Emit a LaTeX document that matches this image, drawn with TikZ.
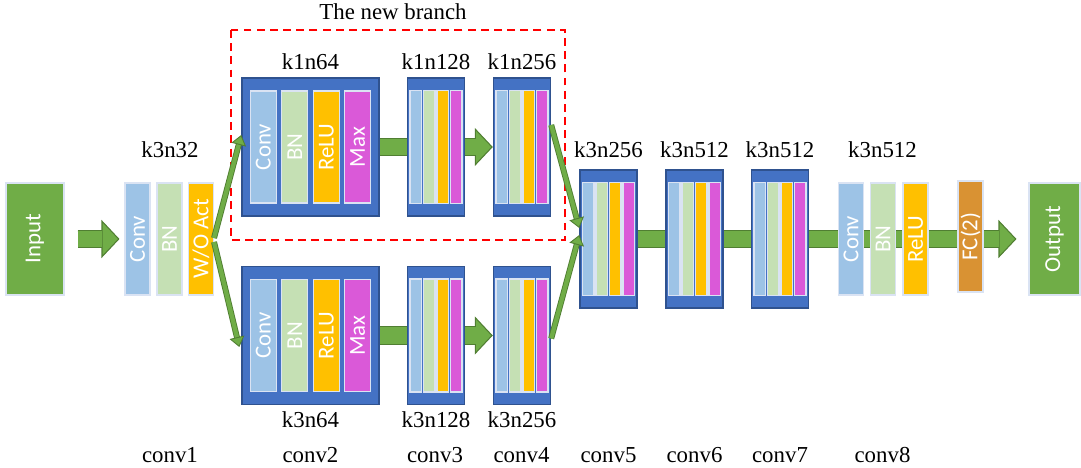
\documentclass[tikz,border=0pt]{standalone}
\usepackage{fontspec}
\usepackage{graphicx}
\setmainfont{Liberation Serif}
\newfontfamily\barfont{Carlito}
\usetikzlibrary{arrows.meta}
\pgfdeclarelayer{bg}
\pgfsetlayers{bg,main}
\definecolor{agreen}{HTML}{70AD47}
\definecolor{adark}{HTML}{507E32}
\definecolor{blockblue}{HTML}{4472C4}
\definecolor{blockline}{HTML}{2F528F}
\definecolor{convc}{HTML}{9DC3E6}
\definecolor{bnc}{HTML}{C5E0B4}
\definecolor{reluc}{HTML}{FFC000}
\definecolor{maxc}{HTML}{DA59D8}
\definecolor{fcc}{HTML}{D99233}
\definecolor{barline}{HTML}{DAE3F3}
\newcommand{\up}[1]{\rotatebox{90}{#1}}
\tikzset{
    lab/.style={font=\fontsize{13}{15}\selectfont, inner sep=0},
    bar/.style={draw=barline, line width=0.6pt, minimum width=0.50cm,
        minimum height=2.24cm, inner sep=0, text=white,
        font=\barfont\fontsize{13}{15}\selectfont},
    widebar/.style={bar, minimum width=0.52cm},
    thinbar/.style={bar, minimum width=0.23cm, minimum height=2.26cm},
    block/.style={fill=blockblue, draw=blockline, line width=0.8pt,
        minimum height=2.76cm, inner sep=0},
    io/.style={bar, fill=agreen, minimum width=1.16cm},
    band/.style={draw=agreen, line width=9.6pt},
    bandedge/.style={draw=adark, line width=10.6pt},
    thinedge/.style={draw=adark, line width=3.4pt, shorten >=0.19cm},
    thinarrow/.style={draw=agreen, line width=2.4pt,
        -{Triangle[length=0.2cm, width=0.3cm, fill=agreen, color=adark, line width=0.5pt]}},
    branchbox/.style={draw=red, line width=1.4pt, dash pattern=on 4.5pt off 3pt}
}
% small conv block: name, x, y
\newcommand{\convblock}[3]{%
  \node (#1) [block, minimum width=1.14cm] at (#2,#3) {};
  \foreach \dx/\col [count=\i] in {-0.405/convc, -0.135/bnc, 0.135/reluc, 0.405/maxc}
    \node (#1-\i) [thinbar, fill=\col] at ({#2+\dx},#3) {};
}
% wide conv block: name, x, y
\newcommand{\bigblock}[3]{%
  \node (#1) [block, minimum width=2.74cm] at (#2,#3) {};
  \foreach \dx/\col/\txt [count=\i] in {-0.945/convc/Conv, -0.315/bnc/BN, 0.315/reluc/ReLU, 0.945/maxc/Max}
    \node (#1-\i) [widebar, fill=\col] at ({#2+\dx},#3) {\up{\txt}};
}
% band with head: from, to, start gap, end gap
\newcommand{\headband}[4]{%
  \draw[bandedge, shorten <=#3, shorten >=#4+0.35cm] (#1) -- (#2);
  \draw[draw=agreen, line width=9.6pt, shorten <=#3, shorten >=#4,
    -{Triangle[length=0.36cm, width=0.76cm, fill=agreen, color=adark, line width=0.6pt]}] (#1) -- (#2);
  \draw[band, shorten <=#3, shorten >=#4+0.34cm] (#1) -- (#2);
}

\begin{document}
\begin{tikzpicture}
  \useasboundingbox (0,0) rectangle (21.62,-9.36);

  \node (in1) [io] at (0.70,-4.78) {\up{Input}};
  \node (c1conv) [bar, fill=convc] at (2.75,-4.78) {\up{Conv}};
  \node (c1bn) [bar, fill=bnc] at (3.39,-4.78) {\up{BN}};
  \node (c1act) [bar, fill=reluc] at (4.02,-4.78) {\up{W/O Act}};

  \bigblock{c2t}{6.21}{-2.94}
  \bigblock{c2b}{6.21}{-6.71}
  \convblock{c3t}{8.72}{-2.94}
  \convblock{c3b}{8.72}{-6.71}
  \convblock{c4t}{10.44}{-2.94}
  \convblock{c4b}{10.44}{-6.71}
  \convblock{c5}{12.17}{-4.78}
  \convblock{c6}{13.89}{-4.78}
  \convblock{c7}{15.60}{-4.78}

  \node (c8conv) [bar, fill=convc] at (17.02,-4.78) {\up{Conv}};
  \node (c8bn) [bar, fill=bnc] at (17.66,-4.78) {\up{BN}};
  \node (c8relu) [bar, fill=reluc] at (18.31,-4.78) {\up{ReLU}};
  \node (fc) [bar, fill=fcc, minimum height=2.22cm] at (19.41,-4.73) {\up{FC(2)}};
  \node (out1) [io, minimum width=1.02cm] at (21.09,-4.78) {\up{Output}};

  % kernel / channel labels
  \node (k1) [lab] at (3.40,-3.00) {k3n32};
  \node (k2t) [lab] at (6.21,-1.24) {k1n64};
  \node (k3t) [lab] at (8.72,-1.24) {k1n128};
  \node (k4t) [lab] at (10.44,-1.24) {k1n256};
  \node (k2b) [lab] at (6.21,-8.40) {k3n64};
  \node (k3b) [lab] at (8.72,-8.40) {k3n128};
  \node (k4b) [lab] at (10.44,-8.40) {k3n256};
  \node (k5) [lab] at (12.17,-3.00) {k3n256};
  \node (k6) [lab] at (13.89,-3.00) {k3n512};
  \node (k7) [lab] at (15.60,-3.00) {k3n512};
  \node (k8) [lab] at (17.65,-3.00) {k3n512};

  \foreach \x/\n in {3.40/1, 6.21/2, 8.70/3, 10.43/4, 12.17/5, 13.89/6, 15.60/7, 17.65/8}
    \node (name\n) [lab] at (\x,-9.10) {conv\n};

  \draw[branchbox] (4.62,-0.60) rectangle (11.30,-4.80);
  \node (branch) [lab] at (7.86,-0.24) {The new branch};

  \begin{pgfonlayer}{bg}
    \headband{in1}{c1conv}{0.26cm}{0.10cm}
    \draw[bandedge] (c2t) -- (c3t); \draw[band] (c2t) -- (c3t);
    \draw[bandedge] (c2b) -- (c3b); \draw[band] (c2b) -- (c3b);
    \headband{c3t}{c4t}{0cm}{0cm}
    \headband{c3b}{c4b}{0cm}{0cm}
    \draw[bandedge] (c5) -- (c7); \draw[band] (c5) -- (c7);
    \headband{c7}{out1}{0cm}{0.24cm}
  \end{pgfonlayer}

  % split and merge
  \draw[thinedge] ([yshift=0.02cm]c1act.east) -- ([yshift=0.24cm]c2t.west);
  \draw[thinarrow] ([yshift=0.02cm]c1act.east) -- ([yshift=0.24cm]c2t.west);
  \draw[thinedge] ([yshift=-0.06cm]c1act.east) -- ([xshift=-0.04cm,yshift=-0.23cm]c2b.west);
  \draw[thinarrow] ([yshift=-0.06cm]c1act.east) -- ([xshift=-0.04cm,yshift=-0.23cm]c2b.west);
  \draw[thinedge] ([yshift=0.44cm]c4t.east) -- ([yshift=0.22cm]c5.west);
  \draw[thinarrow] ([yshift=0.44cm]c4t.east) -- ([yshift=0.22cm]c5.west);
  \draw[thinedge] ([yshift=-0.06cm]c4b.east) -- ([yshift=0.08cm]c5.west);
  \draw[thinarrow] ([yshift=-0.06cm]c4b.east) -- ([yshift=0.08cm]c5.west);

\end{tikzpicture}
\end{document}
